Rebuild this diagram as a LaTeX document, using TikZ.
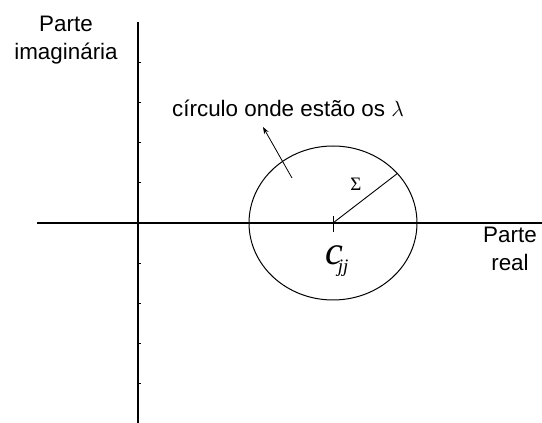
\RequirePackage{fix-cm}
\documentclass[tikz,border=0pt]{standalone}
\usepackage{fontspec}
\setmainfont{Liberation Sans}
\newfontfamily\timesfont{Liberation Serif}
\usetikzlibrary{arrows.meta, positioning, calc}

\begin{document}
\begin{tikzpicture}[
        x=1pt, y=1pt,
        axis/.style={line width=1.3pt},
        lbl/.style={font=\fontsize{22.4}{27.5}\selectfont, align=center, inner sep=0pt},
        pointer/.style={-{Stealth[length=7pt, width=5pt]}, line width=0.8pt}
    ]
    \useasboundingbox (0,0) rectangle (542,423);

    % axes
    \coordinate (xmin) at (37,200);
    \coordinate (xmax) at (542,200);
    \coordinate (ymin) at (138,0);
    \coordinate (ymax) at (138,401);
    \draw[axis] (xmin) -- (xmax);
    \draw[axis] (ymin) -- (ymax);
    \foreach \y in {40,80,120,160,241,281,321,361}
        \draw[line width=0.8pt] (138,\y) -- (141,\y);

    \node[lbl] (imag) at (66,383) {Parte\\imaginária};
    \node[lbl] (real) at (510,174) {Parte\\real};

    % circle round c_jj
    \coordinate (cjj) at (333,200);
    \draw[line width=1pt] (cjj) ellipse (84 and 77);
    \draw[line width=1pt] ($(cjj)+(0,7)$) -- ($(cjj)+(0,-9)$);
    \coordinate (rim) at ($(cjj)+(40:84 and 77)$);
    \draw[line width=0.9pt] (cjj) -- (rim);
    \node[font=\timesfont\fontsize{19}{22}\selectfont, inner sep=0pt] (sigma) at (356,239) {Σ};
    \node[anchor=base west, inner sep=0pt, font=\timesfont\itshape\fontsize{40}{44}\selectfont] (cname) at (325,158)
        {c\kern-5pt\raisebox{-8pt}{\fontsize{19}{22}\selectfont jj}};

    \node[lbl, anchor=base west] (circ) at (172,306) {círculo onde estão os {\fontsize{22}{26}\selectfont$\lambda$}};
    \coordinate (tail) at (292,245);
    \coordinate (tip) at (263,296);
    \draw[pointer] (tail) -- (tip);
\end{tikzpicture}
\end{document}
